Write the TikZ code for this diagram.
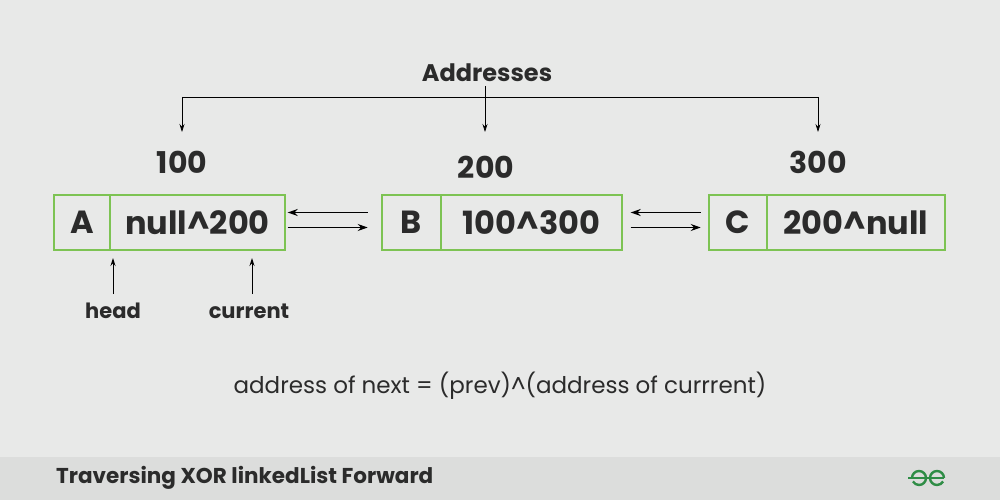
\documentclass[tikz,border=0pt]{standalone}
\usepackage{fontspec}
\setmainfont{Poppins}
\usetikzlibrary{arrows.meta}
\definecolor{bg}{HTML}{E8E9E8}
\definecolor{foot}{HTML}{DCDDDC}
\definecolor{gb}{HTML}{7DC353}
\definecolor{gfg}{HTML}{2F8D46}
\definecolor{txt}{HTML}{2B2B2B}
\begin{document}
\begin{tikzpicture}[x=1pt,y=-1pt,
  cell/.style={draw=gb,line width=1.4pt,minimum height=55pt,inner sep=0pt,font=\bfseries\fontsize{32}{34}\selectfont,text=txt},
  lbl/.style={font=\bfseries\fontsize{24}{28}\selectfont,text=txt},
  arr/.style={-{Stealth[length=10pt,width=7pt]},line width=1.1pt},
  thin/.style={-{Stealth[length=8pt,width=5pt]},line width=0.7pt}]
\fill[bg] (0,0) rectangle (1000,500);
\fill[foot] (0,457) rectangle (1000,500);
\useasboundingbox (0,0) rectangle (1000,500);
% nodes
\node[cell,minimum width=56pt] (a1) at (82,222.5) {A};
\node[cell,minimum width=175pt] (a2) at (197.5,222.5) {null\textasciicircum 200};
\node[cell,minimum width=59pt] (b1) at (411.5,222.5) {B};
\node[cell,minimum width=181pt] (b2) at (531.5,222.5) {100\textasciicircum 300};
\node[cell,minimum width=58pt] (c1) at (738,222.5) {C};
\node[cell,minimum width=178pt] (c2) at (856,222.5) {200\textasciicircum null};
% arrows between
\draw[arr] ([shift={(82,-10)}]a2.east) -- ([shift={(2,-10)}]a2.east);
\draw[arr] ([shift={(2,5)}]a2.east) -- ([shift={(82,5)}]a2.east);
\draw[arr] ([shift={(78,-10)}]b2.east) -- ([shift={(8,-10)}]b2.east);
\draw[arr] ([shift={(8,5)}]b2.east) -- ([shift={(78,5)}]b2.east);
% addresses
\node[lbl] (addr) at (487,73) {Addresses};
\node[lbl,font=\bfseries\fontsize{30}{34}\selectfont] (n100) at (182,162) {100};
\node[lbl,font=\bfseries\fontsize{30}{34}\selectfont] (n200) at (486,167) {200};
\node[lbl,font=\bfseries\fontsize{30}{34}\selectfont] (n300) at (818,162) {300};
\coordinate (l) at (182,97);
\coordinate (r) at (818,97);
\draw[line width=0.7pt] (l) -- (r);
\draw[thin] (l) -- (182,132);
\draw[thin] (r) -- (818,132);
\draw[thin] (485,86) -- (485,132);
% head / current
\node[lbl,font=\bfseries\fontsize{21}{24}\selectfont] (head) at (113,311) {head};
\node[lbl,font=\bfseries\fontsize{21}{24}\selectfont] (cur) at (249,311) {current};
\draw[thin,line width=0.9pt] (113,294) -- (113,258);
\draw[thin,line width=0.9pt] (252,294) -- (252,258);
% formula
\node[font=\fontsize{23}{27}\selectfont,text=txt] (f) at (500,386) {address of next = (prev)\textasciicircum(address of currrent)};
% footer
\node[anchor=west,inner sep=0pt,font=\bfseries\fontsize{21.5}{24}\selectfont,text=txt] (ft) at (56,478) {Traversing XOR linkedList Forward};
\begin{scope}[gfg,line width=2.4pt]
\draw (912,478) arc[start angle=180,end angle=-150,radius=7pt] ;
\draw (908,478) -- (926,478);
\draw (944,478) arc[start angle=0,end angle=330,radius=7pt];
\draw (944,478) -- (926,478);
\end{scope}
\end{tikzpicture}
\end{document}
